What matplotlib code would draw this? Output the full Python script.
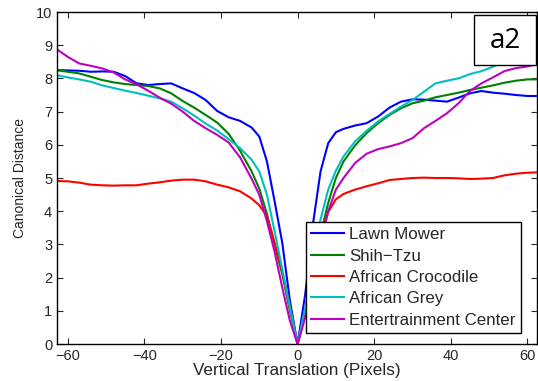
import matplotlib
matplotlib.use("Agg")
import matplotlib.pyplot as plt
from matplotlib.patches import Rectangle

plt.rcParams['font.family'] = ['Liberation Sans', 'DejaVu Sans']

# vertical translation in pixels
shift = [-63, -60, -57, -54, -51, -48, -45, -42, -39, -36, -33, -30, -27, -24, -21, -18,
         -15, -12, -10, -8, -6, -4, -2, 0, 2, 4, 6, 8, 10, 12, 15, 18, 21, 24, 27, 30,
         33, 36, 39, 42, 45, 48, 51, 54, 57, 60, 63]

lawn_mower = [8.25, 8.24, 8.23, 8.2, 8.21, 8.2, 8.07, 7.85, 7.8, 7.83, 7.85, 7.7, 7.56,
              7.35, 7.02, 6.83, 6.72, 6.52, 6.25, 5.5, 4.3, 3.05, 1.3, 0,
              1.5, 3.6, 5.2, 6.05, 6.38, 6.48, 6.58, 6.65, 6.85, 7.12, 7.3, 7.37, 7.36,
              7.33, 7.3, 7.42, 7.55, 7.62, 7.57, 7.54, 7.5, 7.47, 7.47]
shih_tzu = [8.25, 8.2, 8.15, 8.05, 7.95, 7.88, 7.83, 7.8, 7.77, 7.7, 7.55, 7.32, 7.12,
            6.9, 6.67, 6.33, 5.82, 5.2, 4.68, 3.92, 3.0, 2.1, 1.0, 0,
            0.9, 2.2, 3.3, 4.25, 5.0, 5.5, 5.98, 6.35, 6.65, 6.9, 7.1, 7.25, 7.33,
            7.43, 7.5, 7.57, 7.65, 7.72, 7.79, 7.87, 7.93, 7.97, 7.97]
crocodile = [4.91, 4.9, 4.86, 4.8, 4.78, 4.77, 4.78, 4.78, 4.83, 4.87, 4.92, 4.95, 4.95,
             4.9, 4.8, 4.72, 4.6, 4.38, 4.18, 3.85, 3.05, 2.2, 1.1, 0,
             1.0, 2.3, 3.3, 3.98, 4.36, 4.52, 4.65, 4.75, 4.84, 4.94, 4.97, 5.0, 5.01,
             5.0, 5.0, 4.99, 4.97, 4.98, 5.0, 5.08, 5.13, 5.16, 5.17]
african_grey = [8.1, 8.03, 7.97, 7.9, 7.79, 7.71, 7.63, 7.56, 7.48, 7.4, 7.3, 7.1, 6.88,
                6.64, 6.43, 6.17, 5.9, 5.55, 5.2, 4.5, 3.4, 2.25, 1.1, 0,
                1.1, 2.6, 3.75, 4.65, 5.22, 5.65, 6.1, 6.42, 6.7, 6.93, 7.15, 7.35, 7.6,
                7.85, 7.93, 8.0, 8.13, 8.22, 8.35, 8.5, 8.7, 8.85, 8.97]
ent_center = [8.89, 8.65, 8.45, 8.38, 8.3, 8.18, 7.97, 7.82, 7.63, 7.42, 7.24, 7.0, 6.72,
              6.5, 6.3, 6.07, 5.62, 4.98, 4.5, 3.7, 2.78, 1.7, 0.7, 0,
              0.8, 2.0, 3.0, 4.0, 4.65, 5.0, 5.45, 5.73, 5.87, 5.95, 6.05, 6.2, 6.5,
              6.72, 6.95, 7.25, 7.62, 7.85, 8.03, 8.22, 8.31, 8.36, 8.45]

labels = ['Lawn Mower', 'Shih\u2212Tzu', 'African Crocodile', 'African Grey',
          'Entertrainment Center']
colors = ['#0000ff', '#008000', '#ff0000', '#00bfbf', '#bf00bf']

fig = plt.figure(figsize=(5.38, 3.81), dpi=100)
ax = fig.add_axes([57 / 538, 1 - 344 / 381, 480 / 538, 332 / 381])

for ys, lab, c in zip([lawn_mower, shih_tzu, crocodile, african_grey, ent_center], labels, colors):
    ax.plot(shift, ys, color=c, lw=1.5, label=lab)

ax.set_xlim(-62.8, 62.5)
ax.set_ylim(0, 10)
ax.set_xticks([-60, -40, -20, 0, 20, 40, 60])
ax.set_yticks(range(0, 11))
ax.tick_params(direction='in', top=True, right=True, length=4, width=0.8,
               labelsize=10.5, colors='#262626', labelcolor='#262626')
for s in ax.spines.values():
    s.set_linewidth(1.0)
    s.set_color('black')

ax.set_xlabel('Vertical Translation (Pixels)', fontsize=12.3, color='#262626', labelpad=0)
ax.set_ylabel('Canonical Distance', fontsize=10, color='#262626', labelpad=6)

leg = ax.legend(loc='upper left', bbox_to_anchor=(306 / 538, 1 - 222 / 381),
                bbox_transform=fig.transFigure, borderaxespad=0, fancybox=False,
                edgecolor='black', framealpha=1, fontsize=12.2, handlelength=1.95,
                handletextpad=0.3, labelspacing=0.38, borderpad=0.3)
leg.get_frame().set_linewidth(1.0)
for t in leg.get_texts():
    t.set_color('#262626')

# panel tag box
fig.patches.append(Rectangle((474 / 538, 1 - 65 / 381), 62 / 538, 50 / 381,
                             transform=fig.transFigure, fc='white', ec='black', lw=1.0,
                             zorder=5))
fig.text(505 / 538, 1 - 41 / 381, 'a2', fontsize=20, family='Open Sans',
         ha='center', va='center', zorder=6)

fig.savefig('out.png', dpi=100)
